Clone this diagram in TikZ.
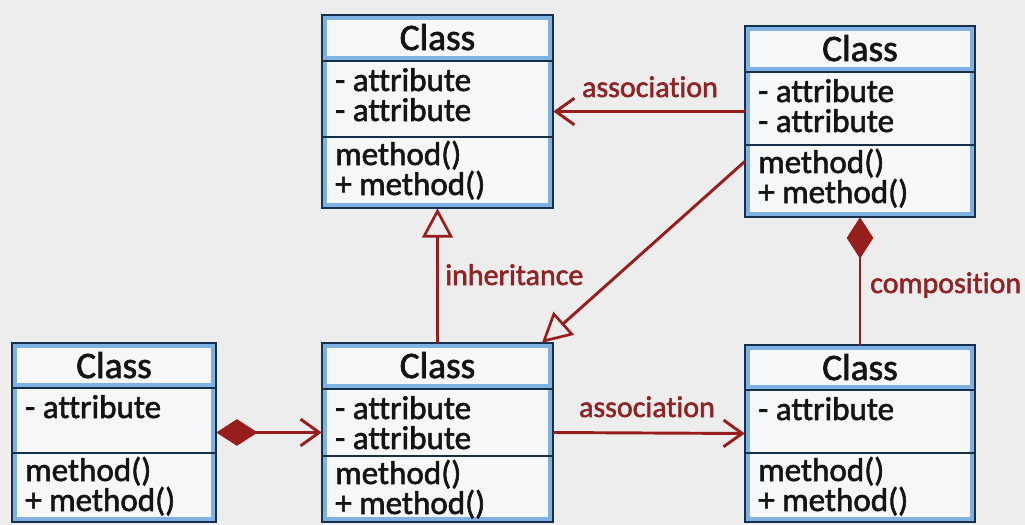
\documentclass[tikz,border=0pt]{standalone}
\usepackage{fontspec}
\setmainfont{Carlito}[Ligatures=NoCommon, FakeBold=1.8]
\usetikzlibrary{arrows.meta,fit}

\definecolor{pagebg}{HTML}{EDEDED}
\definecolor{boxfill}{HTML}{F6F7F8}
\definecolor{framecol}{HTML}{15304D}
\definecolor{glowcol}{HTML}{7FB1E2}
\definecolor{linkred}{HTML}{981E1E}
\definecolor{labelred}{HTML}{8E2424}
\definecolor{inkcol}{HTML}{141414}

\tikzset{
  boxframe/.style={draw=framecol, line width=2.2pt},
  boxglow/.style={draw=glowcol, line width=2.6pt},
  boxrule/.style={draw=framecol, line width=1.6pt},
  classtitle/.style={anchor=base, inner sep=0pt, text=inkcol, font=\fontsize{28pt}{30pt}\selectfont},
  member/.style={anchor=base west, inner sep=0pt, text=inkcol, font=\fontsize{24.8pt}{26pt}\selectfont},
  linklabel/.style={inner sep=0pt, text=labelred, font=\fontsize{22.5pt}{24pt}\selectfont},
  link/.style={draw=linkred, line width=2.2pt},
  barb/.style={-{Straight Barb[length=14pt, width=20pt, line width=2.2pt]}},
  assoc/.style={link, barb},
  inherit/.style={link, -{Triangle[open, length=22pt, width=23pt, line width=2pt]}},
  diamondtip/.tip={Diamond[length=31pt, width=20pt, fill=linkred]},
  compose/.style={link, {diamondtip}-},
  composeto/.style={link, {diamondtip}-{Straight Barb[length=14pt, width=20pt, line width=2.2pt]}},
}

% A class box: name, x1, y1, x2, y2, title rule y, member rule y, attributes, methods
\newcommand{\umlclass}[9]{%
  \fill[boxfill] (#2,#3) rectangle (#4,#5);
  \draw[boxglow] (#2+3,#3+3) rectangle (#4-3,#5-3);
  \draw[boxglow] (#2+3,#6-3) -- (#4-3,#6-3);
  \draw[boxframe] (#2,#3) rectangle (#4,#5);
  \draw[boxframe] (#2,#6) -- (#4,#6);
  \draw[boxrule] (#2,#7) -- (#4,#7);
  \node[inner sep=0pt, fit={(#2,#3) (#4,#5)}] (#1) {};
  \node[classtitle] (#1-t) at ({(#2+#4)/2}, #3+35) {Class};
  \foreach \m [count=\i] in {#8}
    \node[member] (#1-a\i) at (#2+13, #6+30*\i) {\m};
  \foreach \m [count=\i] in {#9}
    \node[member] (#1-m\i) at (#2+13, #7-2+30*\i) {\m};
}

\begin{document}
\begin{tikzpicture}[x=0.75pt, y=-0.75pt]
  \fill[pagebg] (0,0) rectangle (1025,525);
  \useasboundingbox (0,0) rectangle (1025,525);

  % classes
  \umlclass{A}{322}{15}{553}{208}{61}{137}{- attribute, - attribute}{method(), + method()}
  \umlclass{B}{745}{26}{975}{217}{72}{145}{- attribute, - attribute}{method(), + method()}
  \umlclass{C}{12}{343}{216}{522}{388}{453}{- attribute}{method(), + method()}
  \umlclass{D}{322}{343}{553}{522}{389}{456}{- attribute, - attribute}{method(), + method()}
  \umlclass{E}{745}{345}{975}{522}{390}{453}{- attribute}{method(), + method()}

  % relations
  \draw[assoc] (B.west |- A.east) -- (A.east);
  \node[linklabel, anchor=base] (l-assoc1) at (650,97) {association};

  \draw[inherit] (D.north) -- (A.south);
  \node[linklabel, anchor=base west] (l-inh) at (445,285) {inheritance};

  \draw[inherit] ([yshift=-30pt]B.west) -- ([xshift=-8.5pt]D.north east);

  \draw[compose] (B.south) -- (B.south |- E.north);
  \node[linklabel, anchor=base west] (l-comp) at (870,293) {composition};

  \draw[composeto] (C.east) -- (C.east -| D.west);

  \draw[assoc] (D.east) -- (E.west);
  \node[linklabel, anchor=base] (l-assoc2) at (647,417) {association};
\end{tikzpicture}
\end{document}
